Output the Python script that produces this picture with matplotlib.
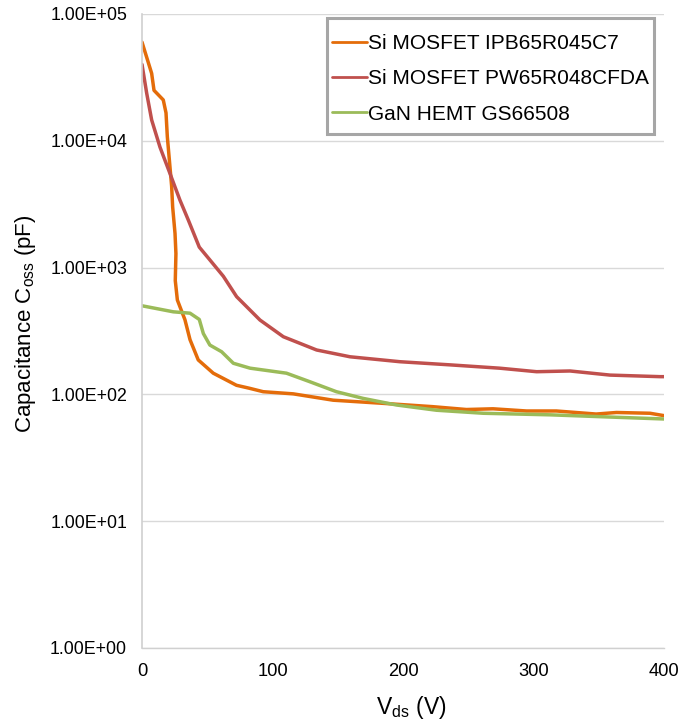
import matplotlib
matplotlib.use("Agg")
import matplotlib.pyplot as plt
from matplotlib.ticker import FixedLocator, NullLocator
from matplotlib.patches import Rectangle

plt.rcParams['font.family'] = ['Liberation Sans', 'DejaVu Sans']

# Si MOSFET IPB65R045C7
v_ipb = [0, 7.4, 9.2, 16.3, 18.4, 19.4, 21, 22.7, 23.5, 25.3, 26, 25.5, 27.1, 32.9, 36.8, 43.1,
         54.6, 72.4, 82, 92.9, 115.9, 146.5, 184.8, 223, 248.6, 269, 294.6, 317.5, 348, 363.6, 389.3, 400]
c_ipb = [60000, 34000, 25000, 21000, 16600, 10800, 7000, 4400, 3000, 1860, 1290, 790, 555, 388, 270, 187,
         147, 118, 112, 105, 101, 90, 85, 80, 76, 77, 74, 74, 70, 72, 71, 68]

# Si MOSFET PW65R048CFDA
v_pw = [0, 3.6, 7.4, 13.8, 21.5, 29.1, 35.5, 43.9, 52, 62.3, 72.5, 90.4, 108.3, 133.8, 159.4, 197.7,
        236, 274, 302.4, 328, 358.6, 397, 400]
c_pw = [40000, 23700, 14600, 8900, 5500, 3400, 2370, 1450, 1150, 855, 590, 386, 285, 224, 198, 181,
        171, 161, 151, 153, 142, 138, 138]

# GaN HEMT GS66508
v_gan = [0, 24, 36.8, 43.9, 47, 52, 61, 70, 82.8, 110.7, 128.5, 149, 169.5, 195, 225.7, 261.5, 313,
         363.6, 400]
c_gan = [500, 448, 437, 390, 302, 245, 217, 176, 161, 147, 126, 105, 93, 82.5, 75, 71, 69,
         66, 64]

series_labels = ["Si MOSFET IPB65R045C7", "Si MOSFET PW65R048CFDA", "GaN HEMT GS66508"]
colors = ["#E46C0A", "#C0504D", "#9BBB59"]
yticks = [1e0, 1e1, 1e2, 1e3, 1e4, 1e5]
ytick_labels = ["1.00E+00", "1.00E+01", "1.00E+02", "1.00E+03", "1.00E+04", "1.00E+05"]
xticks = [0, 100, 200, 300, 400]

W, H = 682, 723
fig = plt.figure(figsize=(W/100, H/100), dpi=100)
ax = fig.add_axes([142/W, 1-648/H, (664-142)/W, (648-14)/H])

for v, c, lab, col in zip([v_ipb, v_pw, v_gan], [c_ipb, c_pw, c_gan], series_labels, colors):
    ax.plot(v, c, color=col, lw=2.5, label=lab, solid_joinstyle='round', solid_capstyle='round')

ax.set_yscale('log')
ax.set_ylim(1, 1e5)
ax.set_xlim(0, 400)
ax.yaxis.set_major_locator(FixedLocator(yticks))
ax.yaxis.set_minor_locator(NullLocator())
ax.set_yticklabels(ytick_labels, fontsize=12.8)
ax.set_xticks(xticks)
ax.set_xticklabels([str(x) for x in xticks], fontsize=13.2)
ax.tick_params(axis='both', length=0)
ax.tick_params(axis='y', pad=10.8)
ax.tick_params(axis='x', pad=10.5)
ax.grid(axis='y', color='#D9D9D9', lw=1.0)
ax.set_axisbelow(True)
for s in ['top', 'right']:
    ax.spines[s].set_visible(False)
ax.spines['left'].set_color('#D0D0D0')
ax.spines['left'].set_linewidth(1.2)
ax.spines['bottom'].set_color('#D0D0D0')
ax.spines['bottom'].set_linewidth(1.0)

ax.set_xlabel("V$_{\\mathregular{ds}}$ (V)", fontsize=16.5)
ax.set_ylabel("Capacitance C$_{\\mathregular{oss}}$ (pF)", fontsize=16)
ax.xaxis.set_label_coords((411-142)/522, -(694-648)/634)
ax.yaxis.set_label_coords((38-142)/522, (648-323.5)/634)

leg = fig.legend(loc='upper left', bbox_to_anchor=(332/W, 1-34/H), fontsize=15,
                 handlelength=1.68, handletextpad=0.05, labelspacing=0.78, borderpad=0,
                 borderaxespad=0, frameon=False)
for l in leg.get_lines():
    l.set_linewidth(2.0)
fig.patches.append(Rectangle((327/W, 1-134/H), (654-327)/W, (134-18)/H, transform=fig.transFigure,
                             facecolor='white', edgecolor='#A6A6A6', lw=2.2, zorder=0))
leg.set_zorder(5)

fig.savefig("out.png", dpi=100)
